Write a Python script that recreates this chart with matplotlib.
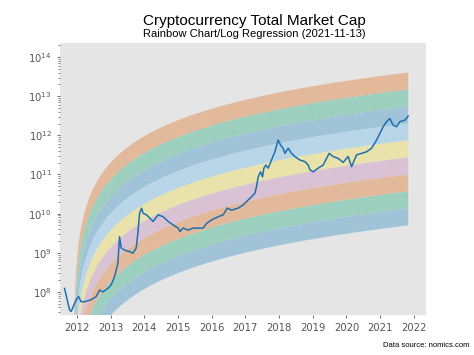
import numpy as np
import matplotlib
matplotlib.use("Agg")
import matplotlib.pyplot as plt

# market cap (decimal year, USD)
years = [2011.635, 2011.783, 2011.831, 2011.979, 2012.050, 2012.128, 2012.228, 2012.424,
         2012.573, 2012.674, 2012.772, 2012.920, 2013.018, 2013.119, 2013.217, 2013.267,
         2013.315, 2013.415, 2013.564, 2013.662, 2013.760, 2013.810, 2013.861, 2013.920,
         2013.967, 2014.068, 2014.166, 2014.264, 2014.412, 2014.561, 2014.709, 2014.858,
         2015.006, 2015.056, 2015.154, 2015.303, 2015.451, 2015.599, 2015.748, 2015.849,
         2015.997, 2016.193, 2016.341, 2016.460, 2016.591, 2016.786, 2016.935, 2017.036,
         2017.184, 2017.282, 2017.332, 2017.380, 2017.451, 2017.510, 2017.549, 2017.608,
         2017.677, 2017.777, 2017.875, 2017.973, 2018.045, 2018.122, 2018.172, 2018.270,
         2018.371, 2018.469, 2018.617, 2018.766, 2018.864, 2018.914, 2019.012, 2019.160,
         2019.309, 2019.409, 2019.487, 2019.605, 2019.754, 2019.902, 2020.050, 2020.151,
         2020.300, 2020.448, 2020.596, 2020.745, 2020.893, 2020.991, 2021.089, 2021.190,
         2021.288, 2021.386, 2021.487, 2021.585, 2021.733, 2021.831]
market_cap = [1.23e8, 3.47e7, 3.16e7, 6.31e7, 7.59e7, 5.62e7, 5.62e7, 6.31e7,
              7.59e7, 1.12e8, 1.00e8, 1.23e8, 1.51e8, 2.45e8, 5.37e8, 2.57e9,
              1.32e9, 1.17e9, 1.07e9, 9.77e8, 1.32e9, 3.16e9, 1.02e10, 1.38e10,
              1.02e10, 9.33e9, 7.59e9, 6.31e9, 9.33e9, 8.32e9, 6.31e9, 5.13e9,
              4.27e9, 3.47e9, 4.27e9, 3.80e9, 4.27e9, 4.27e9, 4.27e9, 5.62e9,
              6.92e9, 8.32e9, 9.33e9, 1.38e10, 1.23e10, 1.38e10, 1.66e10, 2.04e10,
              2.69e10, 3.31e10, 4.90e10, 8.71e10, 1.17e11, 8.71e10, 1.45e11, 1.74e11,
              1.45e11, 2.34e11, 3.80e11, 7.59e11, 5.62e11, 4.68e11, 3.47e11, 4.68e11,
              3.47e11, 2.88e11, 2.34e11, 2.14e11, 1.74e11, 1.32e11, 1.17e11, 1.45e11,
              1.74e11, 2.57e11, 3.47e11, 2.88e11, 2.57e11, 2.04e11, 2.88e11, 1.58e11,
              3.16e11, 3.47e11, 3.80e11, 4.68e11, 7.59e11, 1.12e12, 1.66e12, 2.24e12,
              2.69e12, 1.82e12, 1.66e12, 2.24e12, 2.45e12, 3.09e12]

# log regression: log10(cap) = a * ln(year - origin) + b (top edge of rainbow)
reg_a = 1.048
reg_b = 11.20
reg_origin = 2011.9
band_width = 0.434
band_colors = ["#e3b99b", "#9dcfbe", "#a1c3d7", "#b9d6e8", "#e9e3ab", "#dac2d5",
               "#e3b99b", "#9dcfbe", "#a1c3d7"]
tick_years = list(range(2012, 2023))
y_ticks = [1e8, 1e9, 1e10, 1e11, 1e12, 1e13, 1e14]

fig = plt.figure(figsize=(4.74, 3.55), dpi=100)
ax = fig.add_axes([0.1266, 0.1127, 0.7721, 0.7662])
ax.set_facecolor("#e5e5e5")

t = np.linspace(reg_origin + 0.001, years[-1], 600)
top = reg_a * np.log(t - reg_origin) + reg_b
for i, c in enumerate(band_colors):
    hi = 10 ** (top - i * band_width)
    lo = 10 ** (top - (i + 1) * band_width)
    ax.fill_between(t, lo, hi, color=c, linewidth=0)

ax.plot(years, market_cap, color="#1f6fb0", lw=1.1)

ax.set_yscale("log")
ax.set_yticks(y_ticks)
ax.set_ylim(10 ** 7.41, 10 ** 14.36)
ax.set_xlim(2011.5, 2022.36)
ax.set_xticks(tick_years)
ax.set_xticklabels([str(y) for y in tick_years])
for s in ax.spines.values():
    s.set_visible(False)
ax.tick_params(colors="#555555", labelsize=7.2, length=2.5, width=0.6)
ax.tick_params(which="minor", colors="#555555", length=1.5, width=0.5, labelleft=False)

fig.text(0.536, 0.942, "Cryptocurrency Total Market Cap", ha="center", va="center",
         fontsize=11, family="Liberation Sans")
fig.text(0.536, 0.905, "Rainbow Chart/Log Regression (2021-11-13)", ha="center", va="center",
         fontsize=8, family="Liberation Sans")
fig.text(0.99, 0.027, "Data source: nomics.com", ha="right", va="center",
         fontsize=5.5, family="Liberation Sans")

fig.savefig("out.png", dpi=100)
